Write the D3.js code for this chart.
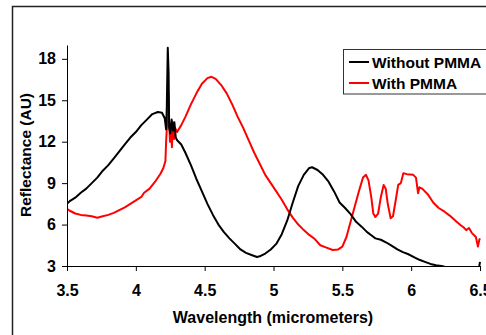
<!DOCTYPE html>
<html>
<head>
<meta charset="utf-8">
<script src="https://cdn.jsdelivr.net/npm/d3@7"></script>
<style>
  html, body { margin: 0; padding: 0; background: #fff; }
  #chart { width: 486px; height: 335px; }
  text { font-family: "Liberation Sans", Arial, sans-serif; font-weight: bold; fill: #000; }
</style>
</head>
<body>
<div id="chart"></div>
<script>
// wavelength (micrometers) / reflectance (AU)
const noPmmaWl = [3.5, 3.52, 3.56, 3.6, 3.64, 3.68, 3.72, 3.76, 3.8, 3.84, 3.88, 3.92, 3.96, 4.0, 4.04, 4.08, 4.12, 4.16, 4.19, 4.21, 4.22, 4.225, 4.232, 4.238, 4.242, 4.25, 4.26, 4.27, 4.28, 4.29, 4.3, 4.33, 4.36, 4.4, 4.44, 4.48, 4.52, 4.56, 4.6, 4.64, 4.68, 4.72, 4.76, 4.8, 4.84, 4.88, 4.9, 4.94, 4.98, 5.02, 5.06, 5.1, 5.14, 5.18, 5.22, 5.26, 5.28, 5.32, 5.36, 5.4, 5.44, 5.48, 5.52, 5.56, 5.6, 5.64, 5.68, 5.72, 5.74, 5.78, 5.82, 5.86, 5.9, 5.94, 5.98, 6.02, 6.06, 6.1, 6.14, 6.18, 6.22, 6.26, 6.34, 6.42, 6.49, 6.5];
const noPmmaR  = [7.5, 7.7, 7.95, 8.3, 8.6, 9.0, 9.4, 9.9, 10.3, 10.8, 11.3, 11.8, 12.3, 12.7, 13.2, 13.6, 14.0, 14.15, 14.1, 13.7, 12.9, 14.5, 18.8, 17.0, 13.0, 12.6, 13.6, 12.8, 13.4, 12.3, 12.1, 11.8, 11.2, 10.3, 9.3, 8.4, 7.5, 6.7, 6.0, 5.45, 5.0, 4.6, 4.2, 3.95, 3.8, 3.65, 3.7, 3.9, 4.2, 4.6, 5.3, 6.3, 7.6, 8.8, 9.6, 10.1, 10.15, 9.95, 9.6, 9.1, 8.4, 7.6, 7.2, 6.75, 6.2, 5.85, 5.45, 5.15, 5.0, 4.9, 4.7, 4.45, 4.2, 4.0, 3.85, 3.65, 3.45, 3.3, 3.15, 3.05, 3.0, 2.9, 2.7, 2.6, 2.7, 3.3];

const pmmaWl = [3.5, 3.52, 3.56, 3.6, 3.64, 3.68, 3.72, 3.76, 3.8, 3.84, 3.88, 3.92, 3.96, 4.0, 4.04, 4.06, 4.1, 4.14, 4.18, 4.2, 4.215, 4.22, 4.228, 4.235, 4.24, 4.248, 4.255, 4.262, 4.27, 4.278, 4.285, 4.3, 4.33, 4.36, 4.4, 4.44, 4.48, 4.52, 4.55, 4.58, 4.62, 4.66, 4.7, 4.74, 4.78, 4.82, 4.86, 4.9, 4.94, 4.98, 5.02, 5.06, 5.1, 5.14, 5.18, 5.22, 5.26, 5.3, 5.34, 5.38, 5.43, 5.47, 5.5, 5.53, 5.56, 5.59, 5.62, 5.65, 5.672, 5.69, 5.71, 5.725, 5.74, 5.76, 5.78, 5.8, 5.815, 5.83, 5.851, 5.868, 5.885, 5.906, 5.925, 5.943, 5.97, 6.015, 6.035, 6.05, 6.06, 6.08, 6.12, 6.16, 6.2, 6.24, 6.28, 6.33, 6.36, 6.38, 6.4, 6.42, 6.44, 6.47, 6.485, 6.495, 6.5];
const pmmaR  = [7.15, 7.0, 6.8, 6.7, 6.65, 6.6, 6.5, 6.6, 6.7, 6.85, 7.05, 7.25, 7.5, 7.75, 8.0, 8.3, 8.6, 9.1, 9.7, 10.1, 10.6, 12.0, 13.5, 15.6, 14.0, 12.0, 13.3, 11.6, 13.4, 12.2, 13.0, 12.7, 13.2, 13.8, 14.7, 15.5, 16.2, 16.6, 16.7, 16.55, 16.1, 15.5, 14.7, 13.8, 13.0, 12.1, 11.2, 10.4, 9.6, 9.0, 8.4, 7.8, 7.1, 6.5, 6.0, 5.6, 5.25, 4.95, 4.5, 4.35, 4.16, 4.2, 4.4, 5.1, 6.2, 7.3, 8.4, 9.4, 9.6, 9.2, 8.0, 6.8, 6.55, 6.8, 8.0, 8.87, 8.6, 7.5, 6.46, 6.6, 7.6, 8.87, 9.0, 9.72, 9.65, 9.6, 9.4, 8.27, 8.7, 8.6, 8.2, 7.6, 7.2, 6.95, 6.65, 6.2, 5.95, 5.8, 5.6, 5.75, 5.4, 5.1, 4.4, 4.9, 5.0];

const xTicks = [3.5, 4, 4.5, 5, 5.5, 6, 6.5];
const yTicks = [3, 6, 9, 12, 15, 18];

const seriesNames = ["Without PMMA", "With PMMA"];
const seriesColors = ["#000000", "#ff0000"];

const width = 486, height = 335;
const margin = { top: 45, right: 6, bottom: 69, left: 67 };
const iW = width - margin.left - margin.right;
const iH = height - margin.top - margin.bottom;

const svg = d3.select("#chart")
  .append("svg")
  .attr("width", width)
  .attr("height", height);

// outer frame (runs off the right/bottom edges)
svg.append("rect")
  .attr("x", 12.5).attr("y", 6.5)
  .attr("width", 600).attr("height", 600)
  .style("fill", "none")
  .style("stroke", "#222")
  .style("stroke-width", 1.5);

const g = svg.append("g")
  .attr("transform", `translate(${margin.left},${margin.top})`);

const x = d3.scaleLinear().domain([3.5, 6.5]).range([0, iW]);
const y = d3.scaleLinear().domain([3, 19]).range([iH, 0]);

g.append("defs").append("clipPath")
  .attr("id", "plot-clip")
  .append("rect")
  .attr("x", 0).attr("y", 0)
  .attr("width", iW + 1).attr("height", iH);

const line = d3.line()
  .x(d => x(d[0]))
  .y(d => y(d[1]));

const series = [
  d3.zip(noPmmaWl, noPmmaR),
  d3.zip(pmmaWl, pmmaR)
];

// draw red first so black sits on top like the original
[1, 0].forEach(i => {
  g.append("path")
    .datum(series[i])
    .attr("clip-path", "url(#plot-clip)")
    .attr("d", line)
    .style("fill", "none")
    .style("stroke", seriesColors[i])
    .style("stroke-width", 2)
    .style("stroke-linejoin", "round");
});

g.append("g")
  .attr("transform", `translate(0,${iH})`)
  .call(d3.axisBottom(x).tickValues(xTicks).tickSize(5).tickSizeOuter(0).tickFormat(d => String(d)))
  .call(ax => ax.selectAll("path, line").style("stroke", "#000"))
  .call(ax => ax.selectAll("text")
    .attr("y", 19)
    .attr("dy", "0.71em")
    .style("font-size", "16px")
    .style("font-family", "'Liberation Sans', Arial, sans-serif")
    .style("font-weight", "bold"));

g.append("g")
  .call(d3.axisLeft(y).tickValues(yTicks).tickSize(5).tickSizeOuter(0))
  .call(ax => ax.selectAll("path, line").style("stroke", "#000"))
  .call(ax => ax.selectAll("text")
    .attr("x", -11)
    .style("font-size", "16px")
    .style("font-family", "'Liberation Sans', Arial, sans-serif")
    .style("font-weight", "bold"));

svg.append("text")
  .attr("x", 273)
  .attr("y", 323)
  .attr("text-anchor", "middle")
  .style("font-size", "16px")
  .text("Wavelength (micrometers)");

svg.append("text")
  .attr("transform", "rotate(-90)")
  .attr("x", -155)
  .attr("y", 31)
  .attr("text-anchor", "middle")
  .style("font-size", "15.5px")
  .text("Reflectance (AU)");

// legend
const legend = svg.append("g");
legend.append("rect")
  .attr("x", 343.5).attr("y", 49.5)
  .attr("width", 200).attr("height", 44.5)
  .style("fill", "#fff")
  .style("stroke", "#333")
  .style("stroke-width", 1);

seriesNames.forEach((name, i) => {
  const ly = 62 + i * 21;
  legend.append("line")
    .attr("x1", 349).attr("x2", 369)
    .attr("y1", ly).attr("y2", ly)
    .style("stroke", seriesColors[i])
    .style("stroke-width", 2);
  legend.append("text")
    .attr("x", 372)
    .attr("y", ly + 5.5)
    .style("font-size", "15.5px")
    .text(name);
});
</script>
</body>
</html>
